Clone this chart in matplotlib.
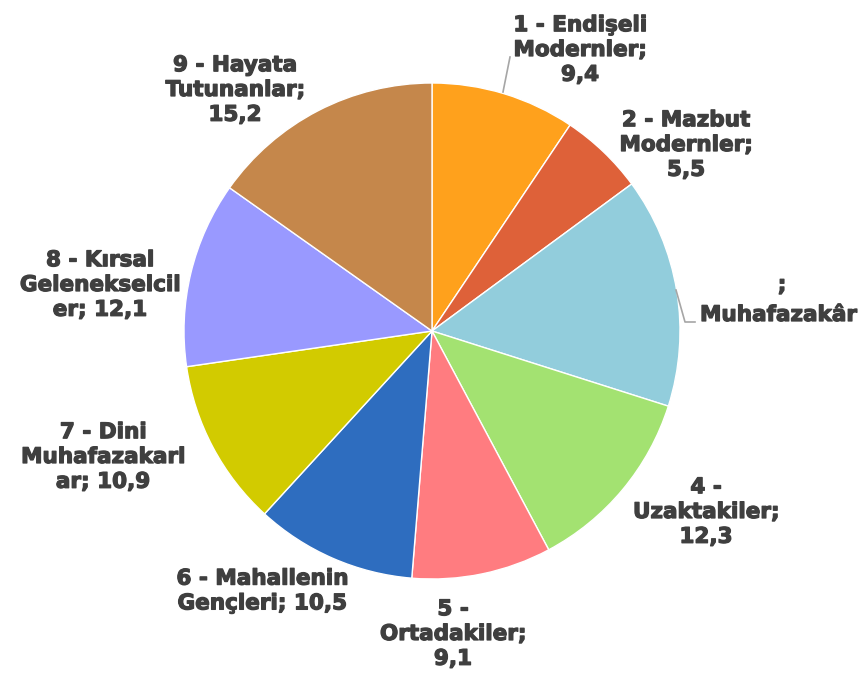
import matplotlib.pyplot as plt
import matplotlib.patheffects as pe

# Segment shares (%)
segments = ["1 - Endişeli Modernler", "2 - Mazbut Modernler", "3 - Muhafazakâr",
            "4 - Uzaktakiler", "5 - Ortadakiler", "6 - Mahallenin Gençleri",
            "7 - Dini Muhafazakarlar", "8 - Kırsal Gelenekselciler", "9 - Hayata Tutunanlar"]
shares = [9.4, 5.5, 15.0, 12.3, 9.1, 10.5, 10.9, 12.1, 15.2]
colors = ["#FFA11C", "#DE6139", "#92CDDC", "#A3E271", "#FF7C80",
          "#2E6DBF", "#D2CB00", "#9999FF", "#C5874B"]

# Label text as wrapped on the chart, with centre positions in pixels
labels = ["1 - Endişeli\nModernler;\n9,4",
          "2 - Mazbut\nModernler;\n5,5",
          None,
          "4 -\nUzaktakiler;\n12,3",
          "5 -\nOrtadakiler;\n9,1",
          "6 - Mahallenin\nGençleri; 10,5",
          "7 - Dini\nMuhafazakarl\nar; 10,9",
          "8 - Kırsal\nGelenekselcil\ner; 12,1",
          "9 - Hayata\nTutunanlar;\n15,2"]
label_pos = [(580, 50), (686, 145), None, (706, 512), (453, 634),
             (262, 591), (103, 457), (100, 285), (235, 90)]

W, H = 866, 677
fig = plt.figure(figsize=(W / 100, H / 100), dpi=100)
ax = fig.add_axes([0, 0, 1, 1])

ax.pie(shares, colors=colors, startangle=90, counterclock=False,
       center=(432, H - 331), radius=248,
       wedgeprops=dict(edgecolor="white", linewidth=1))
ax.set_aspect("equal")
ax.set_xlim(0, W)
ax.set_ylim(0, H)
ax.axis("off")

# heavy label text: bold plus a thin stroke in the same colour
ink = "#3F3F3F"
txt = dict(family="DejaVu Sans", fontweight="bold", fontsize=15.5, color=ink,
           ha="center", va="center", linespacing=1.3,
           path_effects=[pe.withStroke(linewidth=0.9, foreground=ink)])
for lab, pos in zip(labels, label_pos):
    if lab is None:
        continue
    ax.text(pos[0], H - pos[1], lab, **txt)

# segment 3 label runs off the right edge
ax.text(782, H - 285, ";", **txt)
ax.text(700, H - 315, "Muhafazakâr", **{**txt, "ha": "left"})

# leader lines
lc = dict(color="#A6A6A6", lw=1.2)
ax.plot([503, 510], [H - 92, H - 57], **lc)
ax.plot([676, 685, 695], [H - 290, H - 322, H - 322], **lc)

fig.savefig("out.png", dpi=100)
